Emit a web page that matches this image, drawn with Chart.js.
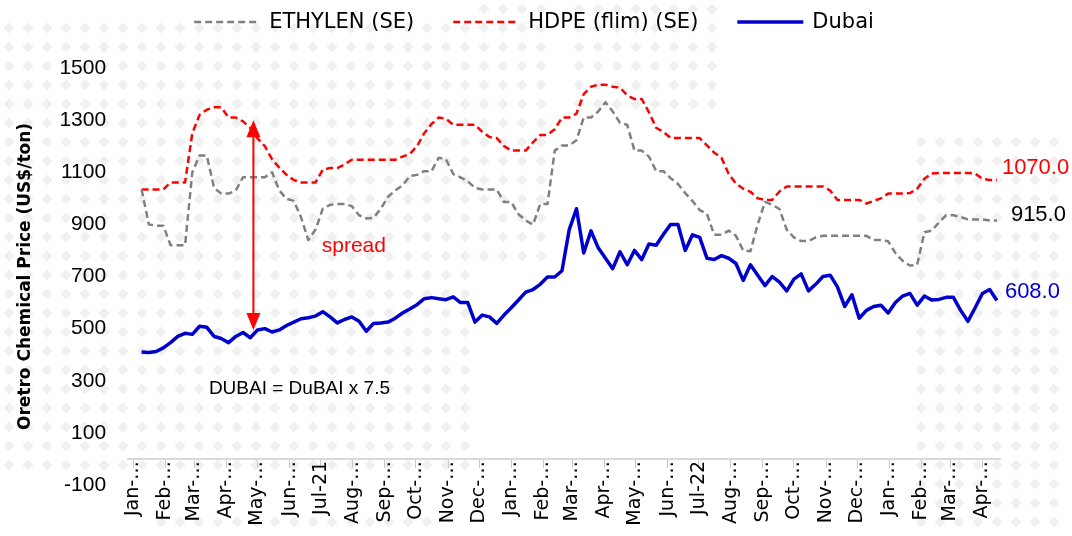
<!DOCTYPE html>
<html>
<head>
<meta charset="utf-8">
<script src="https://cdn.jsdelivr.net/npm/chart.js@4.4.0/dist/chart.umd.min.js"></script>
<style>
  html, body { margin: 0; padding: 0; background: #fff; }
  #wrap { width: 1072px; height: 536px; position: relative; }
</style>
</head>
<body>
<div id="wrap"><canvas id="chart"></canvas></div>
<script>
// weekly quotes, first week ending 9 Jan 2021
var weekStart = '2021-01-09';

var ethylene = [
  1034, 900, 895, 895, 820, 820, 820, 1100, 1164, 1164,
  1040, 1018, 1018, 1030, 1081, 1081, 1081, 1081, 1100, 1030,
  998, 990, 927, 840, 880, 960, 975, 978, 978, 970,
  935, 923, 925, 960, 1006, 1030, 1050, 1085, 1090, 1104,
  1104, 1156, 1150, 1093, 1080, 1065, 1040, 1034, 1034, 1034,
  986, 986, 939, 915, 899, 978, 978, 1183, 1203, 1203,
  1223, 1310, 1310, 1333, 1369, 1333, 1290, 1282, 1183, 1183,
  1160, 1104, 1104, 1077, 1055, 1020, 990, 955, 940, 860,
  860, 876, 856, 800, 797, 900, 986, 975, 959, 880,
  850, 836, 836, 850, 856, 856, 856, 856, 856, 856,
  856, 840, 840, 835, 790, 760, 742, 745, 870, 876,
  907, 935, 935, 928, 919, 919, 919, 915, 915
];

var hdpe = [
  1034, 1034, 1034, 1034, 1061, 1061, 1061, 1250, 1320, 1340,
  1349, 1349, 1310, 1310, 1295, 1270, 1230, 1200, 1150, 1118,
  1090, 1070, 1061, 1061, 1061, 1110, 1116, 1116, 1130, 1148,
  1148, 1148, 1148, 1148, 1148, 1148, 1160, 1170, 1200, 1250,
  1285, 1310, 1305, 1282, 1282, 1282, 1282, 1255, 1235, 1231,
  1200, 1183, 1183, 1183, 1215, 1243, 1243, 1265, 1310, 1310,
  1325, 1400, 1428, 1436, 1436, 1428, 1425, 1395, 1381, 1381,
  1330, 1270, 1255, 1231, 1231, 1231, 1231, 1231, 1203, 1175,
  1156, 1093, 1057, 1037, 1025, 1000, 994, 994, 1026, 1045,
  1045, 1045, 1045, 1045, 1045, 1030, 994, 994, 994, 994,
  980, 990, 1000, 1018, 1018, 1018, 1020, 1037, 1075, 1095,
  1097, 1097, 1097, 1097, 1097, 1095, 1075, 1070, 1070
];

// Dubai crude scaled by 7.5
var dubai = [
  410, 408, 412, 426, 446, 470, 482, 478, 509, 505,
  470, 462, 446, 470, 485, 465, 495, 500, 487, 495,
  512, 525, 538, 542, 548, 565, 545, 522, 535, 545,
  528, 490, 520, 522, 525, 540, 560, 575, 592, 615,
  619, 615, 611, 622, 600, 600, 525, 552, 545, 520,
  552, 580, 610, 640, 650, 670, 698, 698, 722, 880,
  960, 790, 875, 810, 770, 730, 795, 745, 800, 765,
  825, 820, 862, 900, 900, 800, 860, 850, 770, 765,
  780, 770, 750, 685, 745, 705, 665, 700, 678, 645,
  690, 710, 645, 670, 700, 705, 660, 585, 630, 540,
  570, 585, 590, 560, 600, 625, 635, 590, 625, 610,
  612, 620, 620, 570, 528, 580, 635, 650, 608
];

var monthLabels = [
  'Jan-…', 'Feb-…', 'Mar-…', 'Apr-…', 'May-…', 'Jun-…', 'Jul-21', 'Aug-…', 'Sep-…', 'Oct-…', 'Nov-…', 'Dec-…',
  'Jan-…', 'Feb-…', 'Mar-…', 'Apr-…', 'May-…', 'Jun-…', 'Jul-22', 'Aug-…', 'Sep-…', 'Oct-…', 'Nov-…', 'Dec-…',
  'Jan-…', 'Feb-…', 'Mar-…', 'Apr-…'
];

var yMin = -100, yMax = 1500, yStep = 200;

// spread marker between HDPE and Dubai
var spreadDate = '2021-04-27';
var spreadHigh = 1300;
var spreadLow = 495;

var noteText = 'DUBAI = DuBAI x 7.5';

var day0 = Date.parse('2021-01-01');
function dayOf(s) {
    return (Date.parse(s) - day0) / 864e5;
}

function weekly(values) {
    var start = dayOf(weekStart);
    return values.map(function (v, i) {
        return { x: start + 7 * i, y: v };
    });
}

var monthStarts = monthLabels.map(function (l, m) {
    return (Date.UTC(2021, m, 1) - day0) / 864e5;
});

var endLabelOffsets = [
    { dx: 14, dy: -6, color: '#000000' },
    { dx: 5, dy: -12, color: '#ff0000' },
    { dx: 8, dy: -9, color: '#0000cc' }
];

// faint dotted watermark behind the plot (x0, y0, x1, y1)
var watermarkAreas = [
    [0, 12, 470, 472],
    [470, 0, 560, 265],
    [560, 0, 720, 110],
    [150, 500, 440, 536],
    [905, 125, 1072, 536]
];

function diamond(ctx, cx, cy, r) {
    ctx.moveTo(cx, cy - r);
    ctx.lineTo(cx + r, cy);
    ctx.lineTo(cx, cy + r);
    ctx.lineTo(cx - r, cy);
    ctx.closePath();
}

var watermark = {
    id: 'watermark',
    beforeDraw: function (chart) {
        var ctx = chart.ctx, step = 19;
        ctx.save();
        ctx.fillStyle = '#f0f0f0';
        ctx.beginPath();
        watermarkAreas.forEach(function (a) {
            for (var gx = Math.ceil(a[0] / step) * step + 9; gx < a[2]; gx += step) {
                for (var gy = Math.ceil(a[1] / step) * step + 9; gy < a[3]; gy += step) {
                    diamond(ctx, gx, gy, 5.5);
                }
            }
        });
        ctx.fill();
        ctx.restore();
    }
};

var extras = {
    id: 'extras',
    afterDraw: function (chart) {
        var ctx = chart.ctx;
        var xs = chart.scales.x, ys = chart.scales.y;
        ctx.save();

        // legend
        ctx.font = '21px "DejaVu Sans"';
        ctx.textBaseline = 'middle';
        ctx.textAlign = 'left';
        var sampleLen = 66, sampleGap = 9, itemGap = 39;
        var items = chart.data.datasets.map(function (ds) {
            return { ds: ds, w: sampleLen + sampleGap + ctx.measureText(ds.label).width };
        });
        var total = items.reduce(function (a, it) { return a + it.w; }, 0) + itemGap * (items.length - 1);
        var lx = 534 - total / 2, ly = 22;
        items.forEach(function (it) {
            ctx.beginPath();
            ctx.setLineDash(it.ds.borderDash || []);
            ctx.strokeStyle = it.ds.borderColor;
            ctx.lineWidth = it.ds.borderWidth;
            ctx.moveTo(lx, ly);
            ctx.lineTo(lx + sampleLen, ly);
            ctx.stroke();
            ctx.setLineDash([]);
            ctx.fillStyle = '#000';
            ctx.fillText(it.ds.label, lx + sampleLen + sampleGap, ly + 1);
            lx += it.w + itemGap;
        });

        // last value of each series
        ctx.font = '22px "Liberation Sans"';
        chart.data.datasets.forEach(function (ds, i) {
            var last = ds.data[ds.data.length - 1];
            var o = endLabelOffsets[i];
            ctx.fillStyle = o.color;
            ctx.fillText(last.y.toFixed(1), xs.getPixelForValue(last.x) + o.dx, ys.getPixelForValue(last.y) + o.dy);
        });

        // spread arrow
        var ax = xs.getPixelForValue(dayOf(spreadDate));
        var top = ys.getPixelForValue(spreadHigh);
        var bot = ys.getPixelForValue(spreadLow);
        var head = 17, half = 7;
        ctx.strokeStyle = '#ff0000';
        ctx.fillStyle = '#ff0000';
        ctx.lineWidth = 2;
        ctx.beginPath();
        ctx.moveTo(ax, top + head);
        ctx.lineTo(ax, bot - head);
        ctx.stroke();
        ctx.beginPath();
        ctx.moveTo(ax, top);
        ctx.lineTo(ax - half, top + head);
        ctx.lineTo(ax + half, top + head);
        ctx.closePath();
        ctx.fill();
        ctx.beginPath();
        ctx.moveTo(ax, bot);
        ctx.lineTo(ax - half, bot - head);
        ctx.lineTo(ax + half, bot - head);
        ctx.closePath();
        ctx.fill();

        ctx.font = '21px "Liberation Sans"';
        ctx.fillText('spread', xs.getPixelForValue(dayOf('2021-07-02')), ys.getPixelForValue(817));

        ctx.fillStyle = '#000';
        ctx.font = '19px "Liberation Sans"';
        ctx.fillText(noteText, xs.getPixelForValue(dayOf('2021-03-15')), ys.getPixelForValue(270));
        ctx.restore();
    }
};

var chart = new Chart(document.getElementById('chart'), {
    type: 'line',
    data: {
        datasets: [{
            label: 'ETHYLEN (SE)',
            data: weekly(ethylene),
            borderColor: '#808080',
            borderWidth: 2.5,
            borderDash: [7, 4]
        }, {
            label: 'HDPE (flim) (SE)',
            data: weekly(hdpe),
            borderColor: '#ff0000',
            borderWidth: 2.5,
            borderDash: [7, 4]
        }, {
            label: 'Dubai',
            data: weekly(dubai),
            borderColor: '#0000cc',
            borderWidth: 3.5
        }]
    },
    options: {
        responsive: true,
        maintainAspectRatio: false,
        animation: false,
        layout: { padding: { top: 68, left: 11, right: 72, bottom: 51 } },
        elements: {
            point: { radius: 0 },
            line: { tension: 0, borderJoinStyle: 'round' }
        },
        plugins: {
            legend: { display: false },
            tooltip: { enabled: false }
        },
        scales: {
            x: {
                type: 'linear',
                position: { y: 0 },
                min: dayOf('2020-12-27'),
                max: dayOf('2023-04-18'),
                afterBuildTicks: function (scale) {
                    scale.ticks = monthStarts.map(function (d) { return { value: d }; });
                },
                grid: {
                    drawOnChartArea: false,
                    drawTicks: true,
                    tickLength: 8,
                    color: '#c8c8c8'
                },
                border: { color: '#d9d9d9', width: 2 },
                ticks: {
                    autoSkip: false,
                    minRotation: 90,
                    maxRotation: 90,
                    padding: -6,
                    color: '#000',
                    font: { family: 'DejaVu Sans', size: 19 },
                    callback: function (value, index) {
                        return monthLabels[index];
                    }
                }
            },
            y: {
                min: yMin,
                max: yMax,
                grid: { display: false, drawTicks: false },
                border: { display: false },
                ticks: {
                    stepSize: yStep,
                    padding: 22,
                    color: '#000',
                    font: { family: 'Liberation Sans', size: 21 },
                    callback: function (value) {
                        return String(value);
                    }
                },
                title: {
                    display: true,
                    text: 'Oretro Chemical Price (US$/ton)',
                    color: '#000',
                    font: { family: 'DejaVu Sans', size: 17, weight: 'bold' },
                    padding: { top: 4, bottom: 2 }
                }
            }
        }
    },
    plugins: [watermark, extras]
});
</script>
</body>
</html>
